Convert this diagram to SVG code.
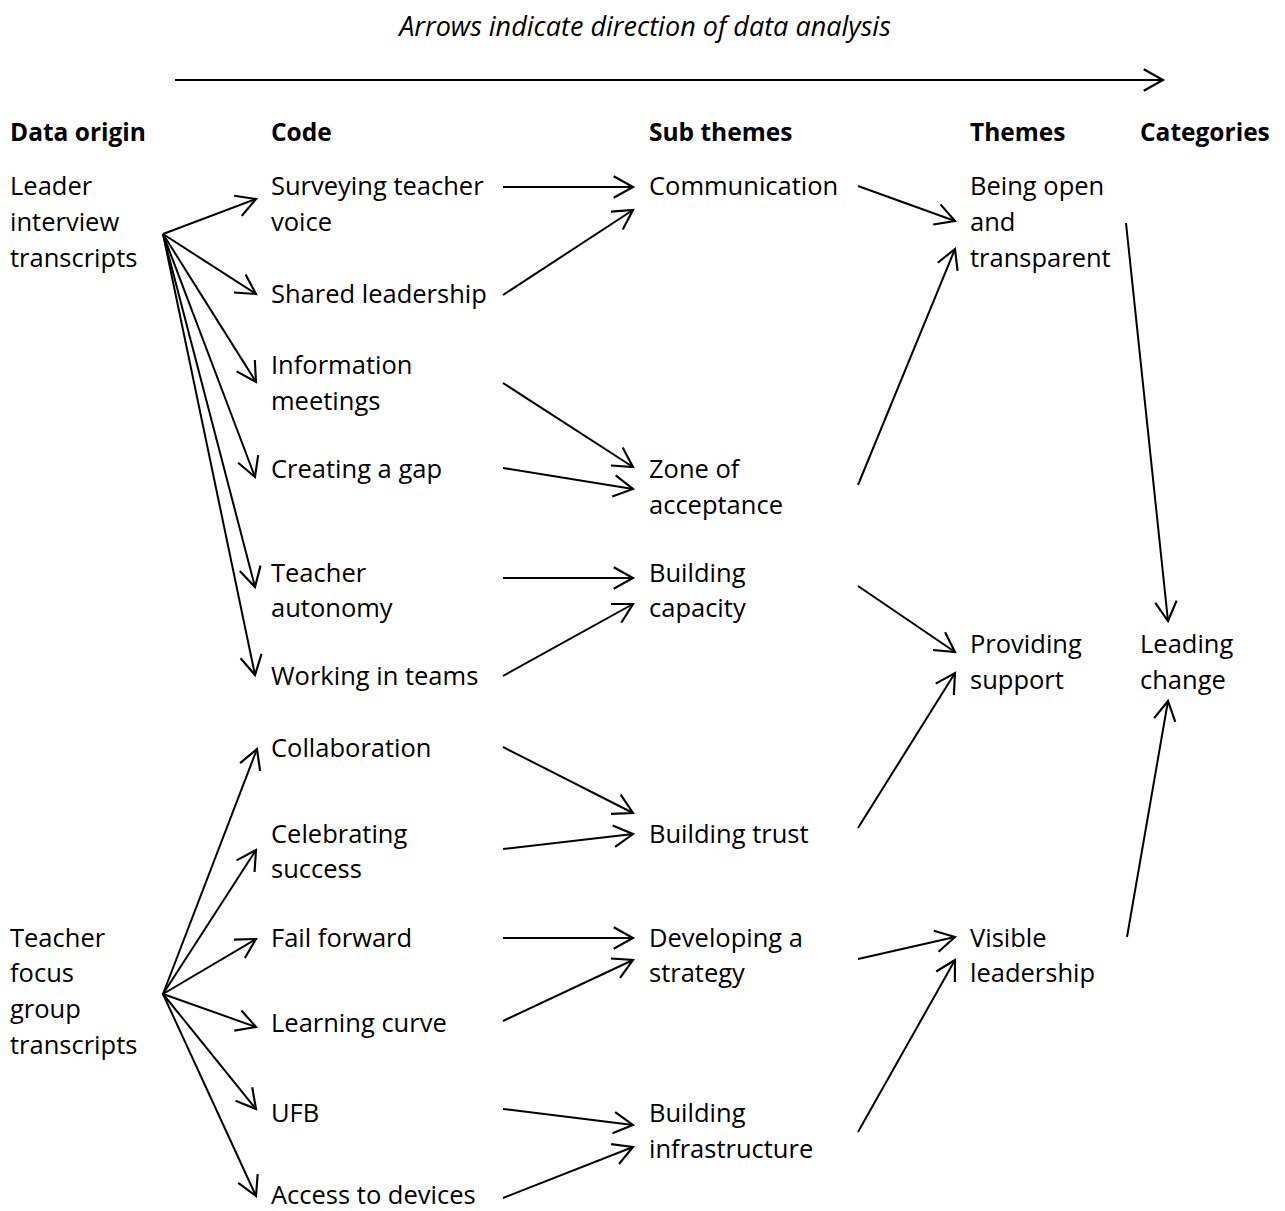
<svg xmlns="http://www.w3.org/2000/svg" width="1285" height="1211" viewBox="0 0 1285 1211">
<style>
text{font-family:"Open Sans","Liberation Sans",sans-serif;font-size:25.5px;fill:#000}
.h{font-weight:bold;font-size:24.5px}
.t{font-style:italic;font-size:27px}
.c line{stroke:#000;stroke-width:2;fill:none;marker-end:url(#ah)}
</style>
<defs>
<marker id="ah" markerUnits="userSpaceOnUse" markerWidth="30" markerHeight="30" viewBox="-22 -14 26 28" refX="0" refY="0" orient="auto">
<path d="M-18,-10 L0,0 L-18,10" fill="none" stroke="#000" stroke-width="2"/>
</marker>
</defs>
<rect width="1285" height="1211" fill="#fff"/>
<text class="t" x="645" y="36" text-anchor="middle">Arrows indicate direction of data analysis</text>
<g id="headers">
<text class="h" x="10" y="141">Data origin</text>
<text class="h" x="271" y="141">Code</text>
<text class="h" x="649" y="141">Sub themes</text>
<text class="h" x="970" y="141">Themes</text>
<text class="h" x="1140" y="141">Categories</text>
</g>
<g id="leader"><text x="10" y="195">Leader</text><text x="10" y="231">interview</text><text x="10" y="267">transcripts</text></g>
<g id="teacherfg"><text x="10" y="947">Teacher</text><text x="10" y="982">focus</text><text x="10" y="1018">group</text><text x="10" y="1054">transcripts</text></g>
<g id="surveying"><text x="271" y="195">Surveying teacher</text><text x="271" y="231">voice</text></g>
<g id="shared"><text x="271" y="303">Shared leadership</text></g>
<g id="information"><text x="271" y="374">Information</text><text x="271" y="410">meetings</text></g>
<g id="gap"><text x="271" y="478">Creating a gap</text></g>
<g id="autonomy"><text x="271" y="582">Teacher</text><text x="271" y="617">autonomy</text></g>
<g id="teams"><text x="271" y="685">Working in teams</text></g>
<g id="collaboration"><text x="271" y="757">Collaboration</text></g>
<g id="celebrating"><text x="271" y="843">Celebrating</text><text x="271" y="878">success</text></g>
<g id="failforward"><text x="271" y="947">Fail forward</text></g>
<g id="learning"><text x="271" y="1032">Learning curve</text></g>
<g id="ufb"><text x="271" y="1122">UFB</text></g>
<g id="devices"><text x="271" y="1204">Access to devices</text></g>
<g id="communication"><text x="649" y="195">Communication</text></g>
<g id="zone"><text x="649" y="478">Zone of</text><text x="649" y="514">acceptance</text></g>
<g id="capacity"><text x="649" y="582">Building</text><text x="649" y="617">capacity</text></g>
<g id="trust"><text x="649" y="843">Building trust</text></g>
<g id="strategy"><text x="649" y="947">Developing a</text><text x="649" y="982">strategy</text></g>
<g id="infrastructure"><text x="649" y="1122">Building</text><text x="649" y="1158">infrastructure</text></g>
<g id="open"><text x="970" y="195">Being open</text><text x="970" y="231">and</text><text x="970" y="267">transparent</text></g>
<g id="support"><text x="970" y="653">Providing</text><text x="970" y="689">support</text></g>
<g id="visible"><text x="970" y="947">Visible</text><text x="970" y="982">leadership</text></g>
<g id="leading"><text x="1140" y="653">Leading</text><text x="1140" y="689">change</text></g>
<g id="connectors" class="c">
<line x1="175" y1="80" x2="1163" y2="80"/>
<line x1="163" y1="234" x2="256" y2="199"/>
<line x1="163" y1="234" x2="256" y2="294"/>
<line x1="163" y1="234" x2="256" y2="382"/>
<line x1="163" y1="234" x2="255" y2="477"/>
<line x1="163" y1="234" x2="255" y2="587"/>
<line x1="163" y1="234" x2="255" y2="675"/>
<line x1="163" y1="994" x2="257" y2="749"/>
<line x1="163" y1="994" x2="256" y2="850"/>
<line x1="163" y1="994" x2="256" y2="939"/>
<line x1="163" y1="994" x2="256" y2="1027"/>
<line x1="163" y1="994" x2="256" y2="1109"/>
<line x1="163" y1="994" x2="256" y2="1196"/>
<line x1="503" y1="187" x2="633" y2="187"/>
<line x1="503" y1="295" x2="633" y2="210"/>
<line x1="503" y1="383" x2="633" y2="467"/>
<line x1="503" y1="468" x2="633" y2="489"/>
<line x1="503" y1="578" x2="633" y2="578"/>
<line x1="503" y1="676" x2="633" y2="604"/>
<line x1="503" y1="747" x2="633" y2="813"/>
<line x1="503" y1="849" x2="633" y2="834"/>
<line x1="503" y1="938" x2="633" y2="938"/>
<line x1="503" y1="1021" x2="633" y2="960"/>
<line x1="503" y1="1109" x2="633" y2="1125"/>
<line x1="503" y1="1198" x2="633" y2="1147"/>
<line x1="858" y1="186" x2="955" y2="221"/>
<line x1="858" y1="485" x2="955" y2="249"/>
<line x1="858" y1="586" x2="955" y2="652"/>
<line x1="858" y1="828" x2="955" y2="673"/>
<line x1="858" y1="959" x2="955" y2="937"/>
<line x1="858" y1="1132" x2="955" y2="960"/>
<line x1="1126" y1="223" x2="1168" y2="621"/>
<line x1="1127" y1="937" x2="1168" y2="701"/>
</g>
</svg>
